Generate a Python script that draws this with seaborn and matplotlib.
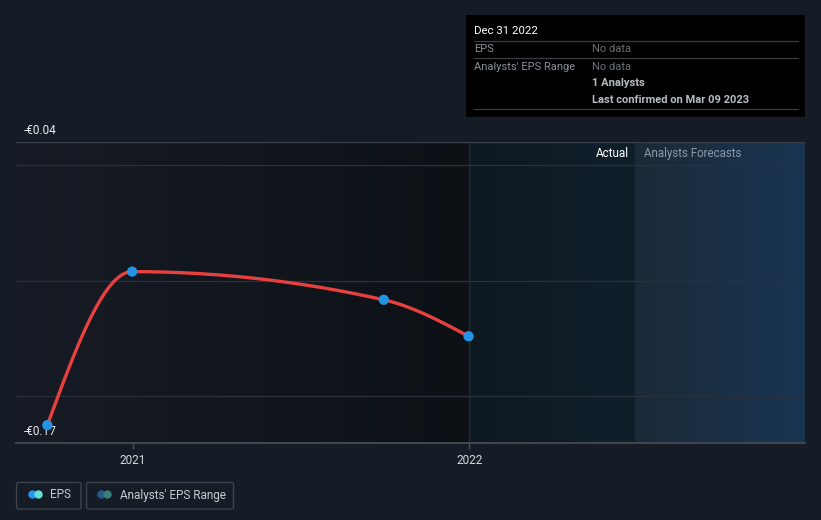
import numpy as np
import pandas as pd
import matplotlib
matplotlib.use("Agg")
import matplotlib.pyplot as plt
import matplotlib.dates as mdates
from matplotlib.patches import FancyBboxPatch, Rectangle, Circle
import seaborn as sns

# ---- data ----
eps_dates = ["2020-09-30", "2020-12-31", "2021-09-30", "2021-12-31"]
eps_values = [-0.1625, -0.0960, -0.1082, -0.1240]
y_tick_labels = ["-€0.04", "-€0.17"]
x_tick_labels = ["2021", "2022"]
x_tick_dates = ["2021-01-01", "2022-01-01"]

BG = "#161c26"
sns.set_theme(style="dark")
plt.rcParams["font.family"] = ["Roboto", "DejaVu Sans"]

fig = plt.figure(figsize=(8.21, 5.2), dpi=100, facecolor=BG)
L, R = 16 / 821, 805 / 821
B, T = (520 - 442.5) / 520, (520 - 142.3) / 520
ax = fig.add_axes([L, B, R - L, T - B])
ax.set_facecolor(BG)

xd = mdates.date2num(pd.to_datetime(eps_dates))
x0 = mdates.date2num(pd.Timestamp("2020-08-27"))
x1 = mdates.date2num(pd.Timestamp("2022-12-31"))
now = mdates.date2num(pd.Timestamp("2022-01-01"))
band = mdates.date2num(pd.Timestamp("2022-06-30"))
ymin, ymax = -0.17, -0.04


def hex2rgb(h):
    h = h.lstrip("#")
    return np.array([int(h[i:i + 2], 16) / 255 for i in (0, 2, 4)])


def grad(xa, xb, c1, c2):
    n = 64
    t = np.linspace(0, 1, n)[None, :, None]
    img = hex2rgb(c1)[None, None, :] * (1 - t) + hex2rgb(c2)[None, None, :] * t
    ax.imshow(img, extent=[xa, xb, ymin, ymax], aspect="auto", zorder=0,
              interpolation="bilinear")


grad(x0, now, "#161b25", "#0d1116")
grad(now, band, "#0e1820", "#10202b")
grad(band, x1, "#1b2a38", "#193552")

ax.axvline(now, color="#1f2a35", lw=1, zorder=1)

# gridlines
for gy in [-0.05, -0.10, -0.15]:
    ax.axhline(gy, color="#2a313b", lw=0.9, zorder=1)
ax.axhline(ymax, color="#3a414b", lw=1, zorder=1)


# monotone cubic (d3 curveMonotoneX-like) for smooth line drawing
def monotone_curve(x, y, n=60):
    x = np.asarray(x, float)
    y = np.asarray(y, float)
    h = np.diff(x)
    s = np.diff(y) / h
    m = np.zeros(len(x))
    for i in range(1, len(x) - 1):
        p = (s[i - 1] * h[i] + s[i] * h[i - 1]) / (h[i - 1] + h[i])
        m[i] = (np.sign(s[i - 1]) + np.sign(s[i])) * min(abs(s[i - 1]), abs(s[i]), 0.5 * abs(p))
    m[0] = (3 * s[0] - m[1]) / 2
    m[-1] = (3 * s[-1] - m[-2]) / 2
    xs, ys = [], []
    for i in range(len(x) - 1):
        t = np.linspace(0, 1, n)
        h00 = 2 * t**3 - 3 * t**2 + 1
        h10 = t**3 - 2 * t**2 + t
        h01 = -2 * t**3 + 3 * t**2
        h11 = t**3 - t**2
        xs.append(x[i] + t * h[i])
        ys.append(h00 * y[i] + h10 * h[i] * m[i] + h01 * y[i + 1] + h11 * h[i] * m[i + 1])
    return np.concatenate(xs), np.concatenate(ys)


cx, cy = monotone_curve(xd, eps_values)
sns.lineplot(x=cx, y=cy, ax=ax, color="#e8403f", lw=2.4, sort=False, zorder=3,
             estimator=None)
sns.scatterplot(x=xd, y=eps_values, ax=ax, color="#2394e4", s=55, edgecolor="none",
                zorder=4)

ax.set_xlim(x0, x1)
ax.set_ylim(ymin, ymax)
ax.set_yticks([])
ax.set_xticks(mdates.date2num(pd.to_datetime(x_tick_dates)))
ax.set_xticklabels(x_tick_labels, color="#d4d8dc", fontsize=8.5)
ax.tick_params(axis="x", length=4, width=1, color="#4a5058", pad=4, bottom=True)
for sp in ["top", "right", "left"]:
    ax.spines[sp].set_visible(False)
ax.spines["bottom"].set_color("#4a5058")
ax.spines["bottom"].set_linewidth(1.2)
ax.grid(False)

# y labels inside
ax.text(0.010, 1.016, y_tick_labels[0], transform=ax.transAxes, color="#e8eaec",
        fontsize=8.5, va="bottom", ha="left")
ax.text(0.010, 0.014, y_tick_labels[1], transform=ax.transAxes, color="#e8eaec",
        fontsize=8.5, va="bottom", ha="left")

# Actual / Forecasts labels
ax.text(band - 7, ymax - 0.0050, "Actual", color="#ffffff", fontsize=8.5,
        ha="right", va="center")
ax.text(band + 9, ymax - 0.0050, "Analysts Forecasts", color="#8a9aa8", fontsize=8.3,
        ha="left", va="center")

# overlay in pixel coordinates for tooltip and legend
ov = fig.add_axes([0, 0, 1, 1], facecolor="none")
ov.set_xlim(0, 821)
ov.set_ylim(520, 0)
ov.axis("off")

ov.add_patch(Rectangle((466, 15), 339, 102, facecolor="#000000", edgecolor="none", zorder=5))
for ly in [41, 58, 109]:
    ov.plot([474, 798], [ly, ly], color="#3a3d42", lw=0.9, zorder=6)
ov.text(474, 31, "Dec 31 2022", color="#ffffff", fontsize=8.2, va="center", zorder=7)
ov.text(474, 49.5, "EPS", color="#8a8f96", fontsize=8, va="center", zorder=7)
ov.text(592, 49.5, "No data", color="#6a6f76", fontsize=8, va="center", zorder=7)
ov.text(474, 66.5, "Analysts' EPS Range", color="#8a8f96", fontsize=8, va="center", zorder=7)
ov.text(592, 66.5, "No data", color="#6a6f76", fontsize=8, va="center", zorder=7)
ov.text(592, 83.5, "1 Analysts", color="#b8bcc1", fontsize=8, va="center",
        fontweight="bold", zorder=7)
ov.text(592, 100, "Last confirmed on Mar 09 2023", color="#b8bcc1", fontsize=8,
        va="center", fontweight="bold", zorder=7)

# legend
for (bx, bw) in [(16.5, 64.5), (86.5, 147)]:
    ov.add_patch(FancyBboxPatch((bx, 482.5), bw, 26.5, boxstyle="round,pad=0,rounding_size=2",
                                facecolor="none", edgecolor="#3d434c", lw=1, zorder=5))
ov.add_patch(Circle((32.5, 494.5), 4.2, facecolor="#2196f3", edgecolor="none", zorder=6))
ov.add_patch(Circle((38.5, 494.5), 4.2, facecolor="#5ee0d6", edgecolor="none", zorder=7))
ov.add_patch(Circle((101.5, 494.5), 4.2, facecolor="#235a8a", edgecolor="none", zorder=6))
ov.add_patch(Circle((107.5, 494.5), 4.2, facecolor="#3d7c7c", edgecolor="none", zorder=7))
ov.text(50, 495, "EPS", color="#c8ccd0", fontsize=8.5, va="center", zorder=7)
ov.text(120, 495, "Analysts' EPS Range", color="#c8ccd0", fontsize=8.5, va="center", zorder=7)

fig.savefig("out.png", dpi=100, facecolor=BG)
